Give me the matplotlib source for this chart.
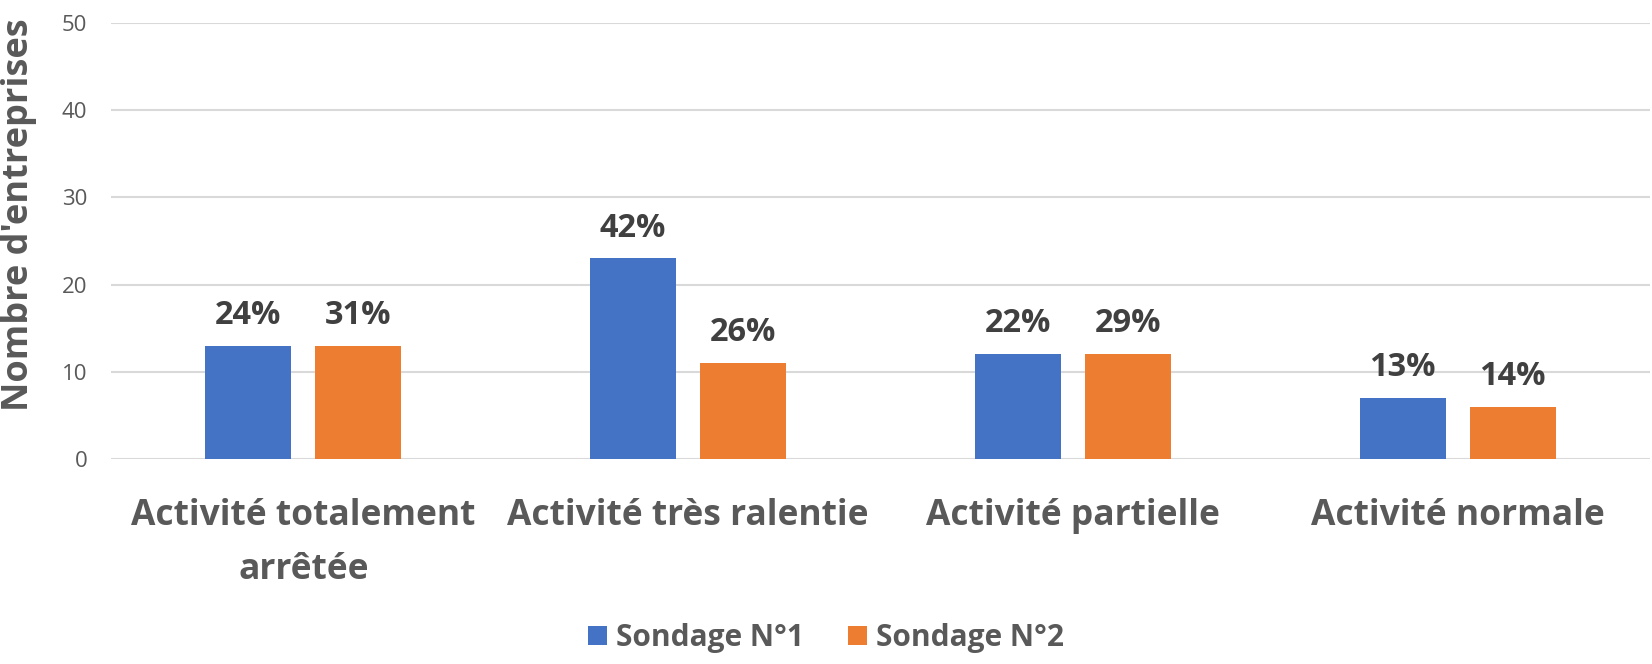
import matplotlib
matplotlib.use("Agg")
import matplotlib.pyplot as plt
import numpy as np

categories = ["Activité totalement\narrêtée", "Activité très ralentie", "Activité partielle", "Activité normale"]
series_names = ["Sondage N°1", "Sondage N°2"]
sondage1 = [13, 23, 12, 7]
sondage2 = [13, 11, 12, 6]
labels1 = ["24%", "42%", "22%", "13%"]
labels2 = ["31%", "26%", "29%", "14%"]
yticks = [0, 10, 20, 30, 40, 50]

BLUE = "#4472C4"
ORANGE = "#ED7D31"
DARK = "#404040"
GREY = "#595959"
FONT = "Open Sans"

plt.rcParams['font.family'] = [FONT, 'DejaVu Sans']

fig = plt.figure(figsize=(16.52, 6.64), dpi=100)
ax = fig.add_axes([111/1652, 1-459/664, (1650-111)/1652, (459-23)/664])

x = np.arange(len(categories))
w = 0.224
off = 0.143
b1 = ax.bar(x - off, sondage1, w, color=BLUE, label=series_names[0], zorder=3)
b2 = ax.bar(x + off, sondage2, w, color=ORANGE, label=series_names[1], zorder=3)

for bars, labs in ((b1, labels1), (b2, labels2)):
    for r, t in zip(bars, labs):
        ax.annotate(t, (r.get_x() + r.get_width()/2, r.get_height()),
                    xytext=(0, 10), textcoords="offset points",
                    ha="center", va="bottom", fontsize=23.5, fontweight="bold",
                    color=DARK, zorder=4)

ax.set_xlim(-0.5, 3.5)
ax.set_ylim(0, 50)
ax.set_yticks(yticks)
ax.set_xticks(x)
ax.set_xticklabels(categories, fontsize=25.5, fontweight="bold", color=GREY, linespacing=1.66)
ax.tick_params(axis="x", length=0, pad=28)
ax.tick_params(axis="y", length=0, pad=17, labelsize=16, labelcolor=GREY)
ax.yaxis.grid(True, color="#D9D9D9", linewidth=1.5, zorder=0)
ax.set_axisbelow(True)
for s in ax.spines.values():
    s.set_visible(False)

ax.set_ylabel("Nombre d'entreprises", fontsize=26, fontweight="bold", color=GREY)
ax.yaxis.set_label_coords((37 - 111) / (1650 - 111), 0.56)

leg = fig.legend(handles=[b1, b2], labels=series_names, loc="center", bbox_to_anchor=(0.5, 1-638/664),
                 ncol=2, frameon=False, prop={"weight": "bold", "size": 21.5},
                 handlelength=0.63, handleheight=0.63, handletextpad=0.3, columnspacing=1.5)
for t in leg.get_texts():
    t.set_color(GREY)

fig.savefig("out.png", dpi=100, facecolor="white")
